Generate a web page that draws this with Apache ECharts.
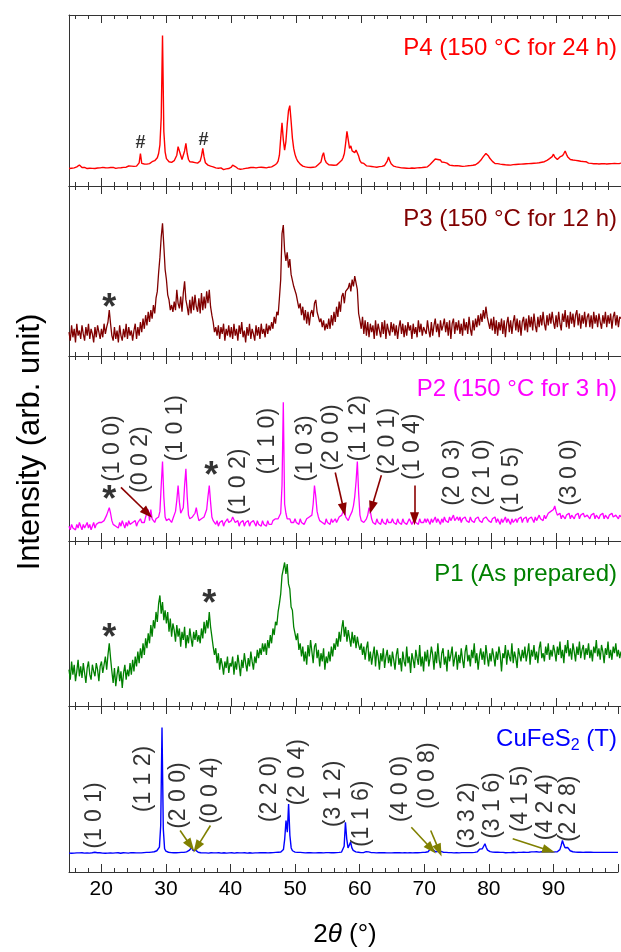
<!DOCTYPE html>
<html><head><meta charset="utf-8">
<script src="https://cdn.jsdelivr.net/npm/echarts@6/dist/echarts.min.js"></script>
<style>html,body{margin:0;padding:0;background:#fff}#c{width:621px;height:952px}</style>
</head><body><div id="c"></div>
<script>
// 2θ grid: START + STEP*i  (i = 0..425)
const START = 15, STEP = 0.2;
const xTickLabels = [20, 30, 40, 50, 60, 70, 80, 90];

// intensities, in % of each panel height
const p4 = [
10.2,10.8,10.4,11.0,10.6,10.3,11.2,11.8,12.3,11.5,10.8,10.4,10.9,10.5,10.2,10.7,10.4,10.9,10.3,10.6,10.2,10.8,10.5,10.1,10.6,
10.4,10.9,10.3,10.7,10.1,10.6,10.2,10.8,10.4,10.9,10.5,10.3,10.8,10.6,11.0,10.7,11.2,10.9,11.4,11.0,11.3,11.7,11.2,11.6,12.0,
11.5,11.9,11.6,12.4,13.5,19.0,13.2,12.4,12.9,13.3,12.8,13.6,13.1,13.8,14.2,13.9,14.8,15.5,16.5,19,24,40,88,32,20,
16.0,15.0,14.2,14.6,13.8,14.3,14.8,15.6,18.0,23.0,24.0,18.0,15.5,16.0,20.5,25.0,19.0,15.5,14.2,13.6,14.0,13.2,13.7,12.9,13.4,
13.8,14.6,17.5,22.0,17.0,13.6,12.9,12.2,12.8,11.6,12.0,11.2,11.7,10.6,11.3,10.4,9.8,10.6,10.1,9.6,10.5,10.0,10.8,10.2,10.6,
11.0,12.2,12.8,11.4,10.8,10.2,10.6,9.8,10.4,10.0,10.7,10.3,9.9,10.5,10.1,10.8,10.4,10.9,10.3,10.6,10.2,10.9,10.5,11.0,10.6,
10.8,11.2,10.6,11.4,11.0,11.6,11.2,11.8,12.0,12.6,13.2,14.5,18.0,28.0,37.0,27.0,21.0,26.0,36.0,44.0,47.0,38.0,28.0,22.0,18.5,
16.2,14.6,13.5,12.8,12.2,11.6,11.9,11.2,11.5,10.9,11.3,10.8,11.4,11.0,11.6,11.2,12.0,12.6,13.4,14.0,17.5,19.5,15.5,13.8,13.0,
12.4,11.8,12.3,11.6,12.1,12.6,12.2,13.0,13.6,14.2,15.0,16.5,19.0,25.0,32.0,27.0,22.0,23.5,20.5,21.5,19.5,21.0,22.0,17.5,14.8,
13.6,12.8,13.2,12.4,11.8,12.3,11.6,12.0,11.4,11.9,11.2,11.7,11.0,11.5,11.3,11.9,11.5,12.4,12.0,13.1,14.5,17.0,14.8,13.0,12.2,
11.6,12.0,11.2,11.7,10.9,11.4,10.6,11.1,10.5,11.0,10.4,10.9,10.3,10.8,10.5,11.0,10.4,10.9,10.6,11.1,10.7,11.2,10.8,11.4,11.0,
11.6,11.2,12.0,12.6,13.4,14.2,15.0,15.8,16.7,15.5,14.6,15.2,14.0,13.2,13.8,12.8,13.4,12.6,12.2,12.9,12.0,12.6,11.8,12.4,11.9,
12.3,11.7,12.2,11.5,12.0,11.6,12.2,11.8,12.4,11.9,12.5,12.1,12.8,12.4,13.0,13.5,14.2,15.0,16.0,17.2,18.2,19.0,18.6,17.5,16.2,
15.2,14.4,13.8,13.2,12.7,13.1,12.4,12.8,12.1,12.6,11.9,12.4,11.8,12.3,11.7,12.2,11.9,12.5,12.0,12.6,12.1,12.7,12.2,12.8,12.3,
12.9,12.4,13.0,12.5,13.1,12.6,13.2,12.7,13.3,12.8,13.4,13.0,13.6,13.2,13.9,13.6,14.2,14.5,15.0,15.6,16.0,16.5,17.2,18.6,17.0,
16.0,15.5,16.2,17.0,16.5,17.8,19.0,20.5,18.5,17.0,16.2,15.5,16.0,15.2,14.6,15.0,14.2,14.8,14.0,14.5,13.8,14.3,13.6,14.2,13.8,
13.4,13.9,13.2,13.7,13.0,13.6,13.1,13.5,12.9,13.4,13.0,13.6,13.1,13.5,12.9,13.4,13.0,13.5,13.1,13.6,13.2,13.7,13.1,13.5,13.2,
13.4];

const p3 = [
14,9,18,11,16,8,19,12,15,10,18,13,9,17,12,19,10,16,13,8,17,11,18,14,10,
16,11,19,13,17,20,27,19,12,9,17,10,15,8,18,12,9,16,11,19,10,17,12,15,9,
15,19,10,17,12,20,14,22,16,24,18,26,20,27,22,30,25,34,38,49,58,70,78,65,51,
45,36,33,27,30,26,32,27,39,31,28,35,26,37,44,33,29,24,33,25,35,27,36,29,26,
34,25,37,27,35,28,38,31,39,29,24,20,14,17,12,18,10,17,13,19,9,16,12,18,11,
17,10,19,12,16,9,18,13,20,11,15,8,17,12,19,10,16,13,9,18,12,17,10,19,13,
16,11,19,13,18,15,20,16,23,19,26,24,34,45,72,77,62,56,61,52,57,48,49,41,42,
36,35,28,31,24,29,21,27,19,26,18,25,27,23,31,33,26,27,20,22,17,21,15,19,16,
22,16,24,18,26,20,29,23,32,26,35,37,31,38,39,40,43,38,45,41,47,46,39,25,21,
16,23,13,21,12,20,11,19,14,18,10,21,12,19,15,11,20,13,21,10,19,15,12,20,14,
19,12,18,10,17,21,13,19,11,18,12,20,15,18,10,19,13,17,11,21,14,19,12,17,16,
13,21,15,11,20,12,18,22,14,19,11,21,15,18,22,14,20,12,21,10,19,22,13,20,15,
21,13,19,12,22,15,20,13,23,16,12,21,15,22,17,24,18,25,20,27,22,29,23,22,16,
22,15,23,13,21,12,20,15,22,13,21,11,19,23,14,21,13,20,24,15,22,14,21,12,20,
23,15,22,14,24,17,23,15,25,18,14,23,17,24,18,26,19,15,24,18,25,19,26,20,16,
24,17,26,19,15,25,20,27,17,24,16,26,19,25,17,24,27,18,25,16,24,19,26,17,23,
25,17,24,16,26,19,24,17,25,20,16,24,19,26,17,24,19,25,16,23,26,18,24,17,23,
22];

const p2 = [
8,6,9,7,8,6,9,7,10,8,6,9,7,8,10,7,9,6,8,10,7,9,8,10,9,
10,9,11,12,14,16,18,15,11,9,10,8,9,7,10,8,11,9,7,10,8,11,9,8,10,
9,11,8,10,9,12,10,11,10,13,12,17,11,17,12,11,10,12,11,13,16,30,43,24,13,
11,10,12,11,10,12,13,16,22,30,21,15,14,18,30,39,24,14,12,11,13,12,15,18,14,
11,10,12,11,13,14,17,24,30,21,13,11,10,9,11,8,10,9,11,8,10,9,12,10,9,
11,13,12,10,9,11,8,10,9,11,8,10,9,11,8,10,9,11,10,8,11,9,10,8,11,
9,10,8,11,9,10,9,11,10,12,11,12,13,15,30,75,20,15,12,11,12,10,11,10,12,
10,11,9,12,10,11,9,10,12,11,13,12,14,20,30,24,16,13,11,12,10,11,9,12,10,
11,9,12,10,11,12,10,11,13,12,14,16,18,13,12,11,13,14,16,19,24,32,43,26,14,
11,12,10,11,12,14,18,16,12,10,11,9,12,10,11,9,12,10,11,9,12,10,11,10,12,
10,11,9,12,10,11,9,12,10,11,9,10,12,11,9,10,12,10,11,9,12,10,11,10,12,
10,12,11,9,12,10,11,13,10,12,11,9,12,10,13,11,12,10,13,11,12,14,11,12,13,
11,13,10,12,11,13,11,12,10,13,11,12,10,12,11,13,11,12,10,12,11,13,12,11,12,
10,12,11,13,10,12,11,9,12,10,11,13,10,12,11,9,12,10,11,12,10,12,11,13,10,
12,11,13,10,12,11,13,12,10,13,11,12,14,12,13,11,14,12,13,15,14,16,15,17,19,
16,14,13,15,12,14,13,12,14,13,15,12,14,13,12,14,13,15,12,14,13,15,13,12,14,
13,12,14,13,15,12,14,13,12,14,13,15,12,14,13,12,14,13,15,13,12,14,13,12,14,
13];

const p1 = [
22,16,27,19,25,15,21,28,18,24,17,26,20,14,23,27,19,16,25,21,18,26,22,15,24,
27,20,25,30,22,31,38,29,21,14,23,12,19,24,15,21,11,20,25,16,22,18,26,19,28,
21,30,24,33,26,35,29,38,31,41,35,44,38,49,42,52,47,57,51,62,67,56,63,52,58,
50,57,45,53,42,50,46,39,49,42,47,36,45,40,48,35,43,38,47,41,36,45,40,46,39,
43,38,47,41,51,44,52,47,57,48,42,36,31,35,26,32,22,29,25,19,27,23,30,20,26,
24,30,19,27,22,31,25,18,28,23,32,26,21,29,24,33,27,22,30,26,34,29,35,31,38,
33,38,31,40,35,43,38,47,43,51,49,57,62,68,79,83,87,80,86,74,71,60,58,48,47,
40,44,34,38,30,36,27,33,25,37,30,40,33,26,36,38,29,34,24,32,27,35,22,30,26,
33,27,36,30,38,34,41,36,45,39,47,52,42,48,39,46,41,36,45,38,43,35,42,37,34,
38,31,36,28,35,39,27,33,25,31,36,24,34,30,22,32,27,35,23,30,34,26,31,24,33,
28,22,31,35,25,29,21,33,27,24,36,26,30,20,32,28,23,34,29,25,37,24,30,21,33,
27,34,24,29,36,31,22,33,26,38,28,23,32,35,25,30,21,34,27,31,36,24,29,33,22,
31,26,35,28,23,33,37,27,31,24,34,29,38,26,32,22,30,35,28,33,25,37,30,24,32,
27,35,30,24,33,28,36,31,21,32,29,37,25,34,30,27,38,26,33,29,23,35,31,27,34,
29,36,27,32,38,25,34,30,37,28,33,26,35,39,29,32,27,36,31,38,28,34,30,37,33,
27,36,31,39,29,34,26,37,32,40,30,35,28,38,33,27,36,31,39,29,34,37,28,35,31,
38,29,34,27,36,32,40,30,35,28,37,33,26,35,31,39,29,34,28,36,32,38,30,34,29,
33];

const cuFeS2T = [
11.4,11.6,11.3,11.5,11.4,11.6,11.5,11.3,11.5,11.4,11.6,11.5,11.4,11.3,11.5,11.6,11.4,11.5,11.6,11.7,11.9,11.7,11.6,11.5,11.6,
11.5,11.4,11.6,11.3,11.5,11.4,11.6,11.5,11.3,11.4,11.6,11.5,11.4,11.6,11.5,11.3,11.5,11.6,11.4,11.5,11.6,11.4,11.5,11.7,11.5,
11.6,11.4,11.5,11.6,11.5,11.7,11.5,11.6,11.7,11.6,11.8,11.7,11.8,11.9,12.0,12.1,12.2,12.4,12.8,13.5,15.0,28,87,26,14.0,
12.6,12.1,11.9,11.8,11.7,11.8,11.6,11.7,11.6,11.8,11.7,11.9,11.8,11.9,11.8,12.0,12.1,12.4,13.0,14.2,14.8,12.9,12.3,13.2,12.4,
11.9,11.7,11.6,11.7,11.5,11.6,11.5,11.6,11.4,11.5,11.6,11.4,11.5,11.6,11.5,11.4,11.6,11.5,11.4,11.5,11.6,11.5,11.4,11.6,11.5,
11.4,11.6,11.5,11.4,11.5,11.6,11.4,11.5,11.6,11.5,11.4,11.6,11.5,11.4,11.5,11.6,11.5,11.4,11.6,11.5,11.6,11.5,11.7,11.6,11.5,
11.6,11.5,11.7,11.6,11.5,11.7,11.6,11.8,11.7,11.6,11.8,11.7,11.9,11.8,12.0,12.4,13.5,20,31,24,41,22,14.5,12.8,12.2,
12.0,11.9,11.8,11.7,11.8,11.6,11.7,11.6,11.5,11.7,11.6,11.5,11.6,11.7,11.5,11.6,11.5,11.7,11.6,11.5,11.6,11.7,11.5,11.6,11.7,
11.6,11.7,11.5,11.6,11.7,11.6,11.8,11.7,11.6,11.8,11.9,12.0,12.6,15.5,30,20,14.5,15.5,18,14.5,13.0,12.4,12.1,12.0,11.9,
11.8,11.7,11.8,11.7,11.9,12.3,12.6,12.1,11.8,11.7,11.6,11.7,11.6,11.5,11.6,11.7,11.5,11.6,11.5,11.6,11.7,11.5,11.6,11.5,11.6,
11.5,11.6,11.7,11.5,11.6,11.5,11.7,11.6,11.5,11.6,11.7,11.6,11.5,11.6,11.7,11.6,11.5,11.7,11.6,11.7,11.6,11.8,11.7,11.6,11.8,
11.8,11.9,12.0,12.2,12.8,14.2,14.9,13.4,12.4,12.1,12.2,12.5,13.1,12.4,12.0,11.8,11.7,11.8,11.6,11.7,11.6,11.7,11.6,11.5,11.7,
11.6,11.7,11.5,11.6,11.7,11.6,11.7,11.8,11.7,11.8,11.7,11.8,11.7,11.8,11.8,11.9,12.1,12.6,13.8,15.0,14.0,15.2,17.0,14.8,13.2,
12.6,12.3,12.1,12.0,11.9,11.9,11.8,11.9,11.7,11.8,11.7,11.8,11.7,11.6,11.8,11.7,11.8,11.7,11.8,11.9,11.8,11.7,11.9,11.8,11.9,
11.8,11.9,12.0,11.9,11.8,12.0,11.9,12.0,12.1,12.0,12.1,12.0,12.2,12.1,12.0,12.1,12.2,12.0,12.1,12.2,12.1,12.0,12.2,12.1,12.0,
12.0,12.1,12.0,12.2,12.4,13.5,16.0,19.0,16.5,14.6,14.2,14.8,13.6,12.8,12.4,12.2,12.1,12.0,12.1,11.9,12.0,11.9,12.0,11.8,11.9,
11.9,11.8,11.9,11.8,11.9,11.7,11.8,11.9,11.8,11.7,11.8,11.9,11.8,11.7,11.8,11.7,11.8,11.9,11.8,11.7,11.8,11.7,11.8,11.9,11.8,
11.8];

// annotations: [text, 2θ, intensity(%) where text starts]
const p2Hkl = [['(1 0 0)',21.7,32],['(0 0 2)',26.1,26],['(1 0 1)',31.5,43],['(1 0 2)',41.2,14],['(1 1 0)',45.6,36],
  ['(1 0 3)',51.4,32],['(2 0 0)',55.5,38],['(1 1 2)',59.6,43],['(2 0 1)',64.1,36],['(1 0 4)',67.9,33],
  ['(2 0 3)',74.1,19],['(2 1 0)',78.7,19],['(1 0 5)',83.1,15],['(3 0 0)',92.1,19]];
const cuHkl = [['(1 0 1)',18.9,14],['(1 1 2)',26.6,36],['(2 0 0)',32.0,26],['(0 0 4)',36.9,29],['(2 2 0)',46.1,30],
  ['(2 0 4)',50.4,40],['(3 1 2)',56.0,27],['(1 1 6)',60.3,15],['(4 0 0)',66.4,30],['(0 0 8)',70.5,38],
  ['(3 3 2)',76.7,14],['(3 1 6)',80.6,20],['(4 1 5)',84.9,24],['(4 2 4)',88.8,19],['(2 2 8)',92.4,18]];
// arrows: [from 2θ, from %, to 2θ, to %]
const p2Arrows = [[23.0,29,27.1,15],[56.0,37,57.3,17],[63.1,35.5,61.6,18],[68.2,30,68.2,12]];
const cuArrows = [[32.2,25,33.8,16],[36.9,28,34.8,15],[68.0,27,71.1,14],[71.0,25,72.3,13],[83.7,20,89.3,13]];
// impurity marks: [symbol, 2θ, %]
const p4Marks = [['#',26.0,25],['#',35.7,27]];
const p3Marks = [['*',21.2,32]];
const p2Marks = [['*',21.2,25.5],['*',36.9,38.7]];
const p1Marks = [['*',21.2,45],['*',36.6,66]];

const FONT = "'Liberation Sans', Arial, sans-serif";
const AX = '#333';
const bounds = [15, 186, 356, 541, 706, 872];
const panels = [
  {label:'P4 (150 °C for 24 h)', color:'#ff0000', data:p4, marks:p4Marks, lw:1.4},
  {label:'P3 (150 °C for 12 h)', color:'#800000', data:p3, marks:p3Marks, lw:1.3},
  {label:'P2 (150 °C for 3 h)', color:'#ff00ff', data:p2, marks:p2Marks, lw:1.3, hkl:p2Hkl, arrows:p2Arrows, arrowColor:'#8b0000'},
  {label:'P1 (As prepared)', color:'#008000', data:p1, marks:p1Marks, lw:1.3},
  {label:'CuFeS2 (T)', color:'#0000ff', data:cuFeS2T, lw:1.4, hkl:cuHkl, arrows:cuArrows, arrowColor:'#808000', rich:true}
];

const grid = [], xAxis = [], yAxis = [], series = [], graphic = [];
panels.forEach((p, i) => {
  const top = bounds[i], h = bounds[i+1] - bounds[i];
  grid.push({left:69, right:0, top:top, height:h});
  const last = i === panels.length - 1;
  const base = {gridIndex:i, type:'value', min:15, max:100, splitLine:{show:false}};
  ['bottom','top'].forEach(pos => {
    xAxis.push(Object.assign({}, base, {position:pos, splitNumber:8,
      axisLine:{show:true, onZero:false, lineStyle:{color:AX, width:1}},
      axisTick:{show:true, inside:true, length:8, lineStyle:{color:AX, width:1}},
      axisLabel:{show: last && pos==='bottom', margin:7, color:'#000', fontSize:21, fontFamily:FONT,
        formatter: v => xTickLabels.includes(v) ? String(v) : ''}}));
    xAxis.push(Object.assign({}, base, {position:pos, splitNumber:40,
      axisLine:{show:false, onZero:false},
      axisTick:{show:true, inside:true, length:4, lineStyle:{color:AX, width:1}},
      axisLabel:{show:false}}));
  });
  yAxis.push({gridIndex:i, type:'value', min:0, max:100, axisLine:{show:true, lineStyle:{color:AX, width:1}},
    axisTick:{show:false}, axisLabel:{show:false}, splitLine:{show:false}});
  const xi = i * 4;
  const n = Math.min(p.data.length, 426);
  const pts = [];
  for (let k = 0; k < n; k++) pts.push([+(START + STEP * k).toFixed(1), p.data[k]]);
  const line = {type:'line', xAxisIndex:xi, yAxisIndex:i, data:pts, showSymbol:false, symbol:'none',
    lineStyle:{color:p.color, width:p.lw}, itemStyle:{color:p.color}, silent:true, z:3};
  if (p.arrows) {
    line.markLine = {silent:true, symbol:['none','triangle'], symbolSize:[9,13], label:{show:false},
      lineStyle:{color:p.arrowColor, width:1.6, type:'solid'}, emphasis:{disabled:true},
      data: p.arrows.map(a => [{coord:[a[0], a[1]]}, {coord:[a[2], a[3]]}])};
  }
  series.push(line);
  if (p.hkl) {
    series.push({type:'scatter', xAxisIndex:xi, yAxisIndex:i, silent:true, z:4,
      data: p.hkl.map(h => [h[1], h[2], h[0]]), symbolSize:1, itemStyle:{color:'rgba(0,0,0,0)'},
      label:{show:true, position:'inside', rotate:90, align:'left', verticalAlign:'middle',
        formatter: q => q.data[2], fontSize:23, fontFamily:FONT, color:'#000'}});
  }
  if (p.marks) {
    series.push({type:'scatter', xAxisIndex:xi, yAxisIndex:i, silent:true, z:4,
      data: p.marks.map(m => [m[1], m[2], m[0]]), symbolSize:1, itemStyle:{color:'rgba(0,0,0,0)'},
      label:{show:true, position:'inside', align:'center', verticalAlign:'middle',
        formatter: q => q.data[2] === '*' ? '{s|*}' : '{h|#}',
        rich:{s:{fontSize:36, fontWeight:'bold', fontFamily:FONT, color:'#000', padding:[15,0,0,0]},
              h:{fontSize:18, fontWeight:'bold', fontFamily:FONT, color:'#000'}}}});
  }
  if (p.rich) {
    graphic.push({type:'text', x:617, y:top+33, z:10, style:{text:'{a|CuFeS}{s|2}{a| (T)}', align:'right', verticalAlign:'middle',
      rich:{a:{fontSize:24, fontFamily:FONT, fill:p.color, lineHeight:24, verticalAlign:'top'},
            s:{fontSize:16, fontFamily:FONT, fill:p.color, lineHeight:16, verticalAlign:'top', padding:[11,0,0,0]}}}});
  } else {
    graphic.push({type:'text', x:617, y:top+33, z:10, style:{text:p.label, fontSize:24, fontFamily:FONT, fill:p.color,
      align:'right', verticalAlign:'middle'}});
  }
});
graphic.push({type:'text', x:30, y:442, rotation:Math.PI/2, style:{text:'Intensity (arb. unit)', fontSize:31,
  fontFamily:FONT, fill:'#000', align:'center', verticalAlign:'middle'}});
graphic.push({type:'text', x:345, y:935, style:{text:'{n|2}{i|θ}{n| (°)}', align:'center', verticalAlign:'middle',
  rich:{n:{fontSize:26, fontFamily:FONT, fill:'#000'}, i:{fontSize:26, fontFamily:FONT, fontStyle:'italic', fill:'#000'}}}});

const chart = echarts.init(document.getElementById('c'), null, {renderer:'canvas'});
chart.setOption({animation:false, backgroundColor:'#ffffff', grid, xAxis, yAxis, series, graphic});
</script></body></html>
